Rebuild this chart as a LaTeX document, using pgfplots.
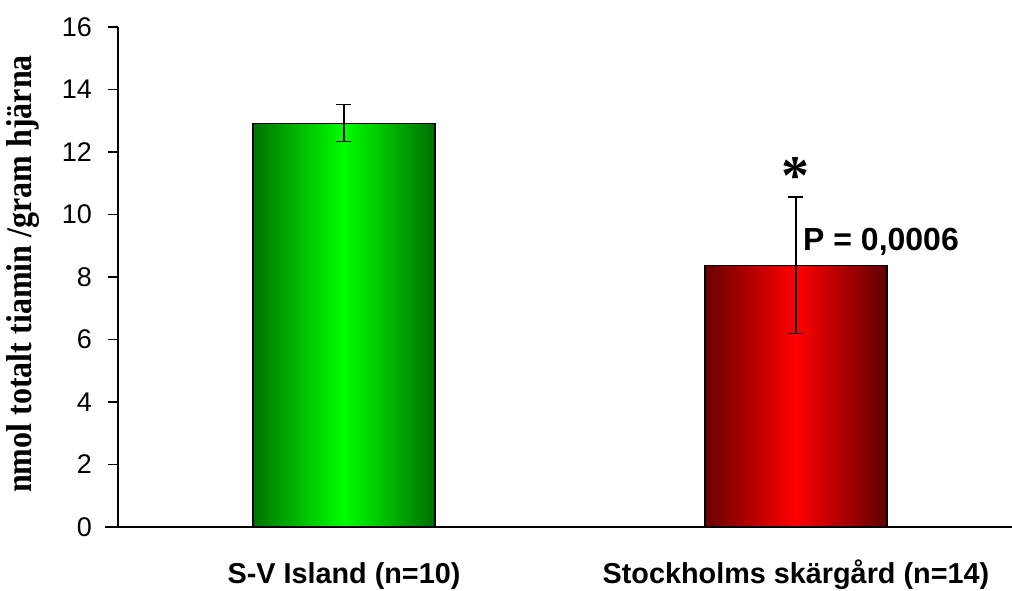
\documentclass[border=0pt]{standalone}
\usepackage{graphicx}
\usepackage{pgfplots}
\pgfplotsset{compat=1.18}
\usepackage{fontspec}
\setmainfont{Liberation Sans}
\newfontfamily\tnr{Liberation Serif}
\begin{document}
\begin{tikzpicture}[x=1pt,y=1pt]
\path[use as bounding box] (0,0) rectangle (1012,590);
\begin{axis}[
  at={(118pt,63pt)}, anchor=south west,
  scale only axis, width=894pt, height=500pt,
  xmin=-0.5, xmax=1.478, ymin=0, ymax=16,
  enlargelimits=false, clip=false,
  axis lines=left,
  axis line style={-, line width=1.3pt, black},
  x axis line style={shorten <=-13pt},
  tick align=outside, major tick length=10pt,
  tick style={black, line width=1.3pt},
  ytick={0,2,...,16},
  xtick={0,1},
  xticklabels={S-V Island (n=10), Stockholms skärgård (n=14)},
  x tick style={draw=none},
  extra x ticks={-0.5,0.5},
  extra x tick labels={},
  extra x tick style={major tick length=13pt, tick style={draw=black, line width=1.3pt}},
  /pgf/number format/assume math mode=true,
  yticklabel style={font=\fontsize{27}{27}\selectfont, anchor=east, inner sep=0pt, xshift=-16pt},
  xticklabel style={font=\bfseries\fontsize{28.8}{28.8}\selectfont, anchor=base, inner sep=0pt, yshift=-46pt},
  ylabel={\scalebox{0.89}[1]{nmol totalt tiamin /gram hjärna}},
  ylabel style={font=\tnr\bfseries\fontsize{36}{36}\selectfont, at={(rel axis cs:-0.097,0.506)}, anchor=base, inner sep=0pt},
]
\addplot[ybar, bar width=182pt, bar shift=0pt, draw=black, line width=1.2pt,
  left color={rgb,255:red,0;green,115;blue,0}, right color={rgb,255:red,0;green,110;blue,0}, middle color={rgb,255:red,0;green,255;blue,0},
  error bars/.cd, y dir=both, y explicit,
  error bar style={line width=1.3pt, black},
  error mark options={rotate=90, mark size=7.5pt, line width=1.3pt, black}]
  coordinates {(0,12.92) +- (0,0.59)};
\addplot[ybar, bar width=182pt, bar shift=0pt, draw=black, line width=1.2pt,
  left color={rgb,255:red,105;green,0;blue,0}, right color={rgb,255:red,95;green,0;blue,0}, middle color={rgb,255:red,255;green,0;blue,0},
  error bars/.cd, y dir=both, y explicit,
  error bar style={line width=1.3pt, black},
  error mark options={rotate=90, mark size=7.5pt, line width=1.3pt, black}]
  coordinates {(1,8.38) +- (0,2.18)};
\node[font=\tnr\bfseries\fontsize{56}{56}\selectfont, anchor=base, inner sep=0pt] at (axis cs:1,10.63) {*};
\node[font=\bfseries\fontsize{32}{32}\selectfont, anchor=base west, inner sep=0pt] at (axis cs:1.0155,8.86) {P = 0,0006};
\end{axis}
\end{tikzpicture}
\end{document}
